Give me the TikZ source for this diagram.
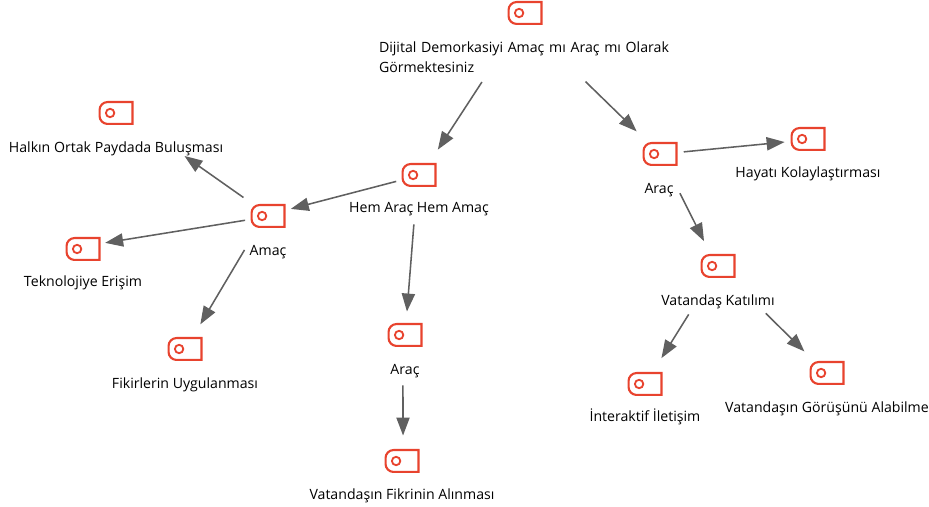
\documentclass[tikz,border=0pt]{standalone}
\usepackage{fontspec}
\setmainfont{Open Sans}
\usetikzlibrary{arrows.meta}

\definecolor{tagred}{HTML}{E8432E}
\definecolor{linkgray}{HTML}{606060}

\tikzset{
    tagicon/.style={inner sep=0, minimum width=0.875cm, minimum height=0.6cm,
        path picture={\draw[tagred, line width=1.5pt]
            ([shift={(-0.75pt,0.75pt)}]path picture bounding box.south east)
            -- ([shift={(-0.75pt,-0.75pt)}]path picture bounding box.north east) [rounded corners=0.2cm]
            -- ([shift={(0.75pt,-0.75pt)}]path picture bounding box.north west)
            -- ([shift={(0.75pt,0.75pt)}]path picture bounding box.south west) [sharp corners] -- cycle;
            \draw[tagred, line width=1.3pt] ([xshift=0.29cm]path picture bounding box.west) circle (0.105cm);}},
    topicfont/.style={inner sep=0, font=\fontsize{10.05pt}{14.2pt}\selectfont},
    topic/.style={topicfont, text height=0.34cm, text depth=0.06cm},
    link/.style={draw=linkgray, line width=1.1pt, -{Triangle[length=0.45cm, width=0.33cm, fill=linkgray]}},
}

\begin{document}
\begin{tikzpicture}
    \useasboundingbox (0,0) rectangle (23.225,12.675);

    \node[tagicon] (rooticon) at (13.125, 12.35) {};
    \node[tagicon] (aracicon) at (16.5, 8.825) {};
    \node[tagicon] (hayaticon) at (20.2, 9.2) {};
    \node[tagicon] (katilimicon) at (17.95, 6.025) {};
    \node[tagicon] (iletisimicon) at (16.125, 3.075) {};
    \node[tagicon] (gorusicon) at (20.675, 3.35) {};
    \node[tagicon] (hemicon) at (10.475, 8.3) {};
    \node[tagicon] (amacicon) at (6.7, 7.275) {};
    \node[tagicon] (halkicon) at (2.9, 9.85) {};
    \node[tagicon] (erisimicon) at (2.075, 6.45) {};
    \node[tagicon] (fikiricon) at (4.625, 3.95) {};
    \node[tagicon] (araciconb) at (10.125, 4.3) {};
    \node[tagicon] (alinmaicon) at (10.05, 1.15) {};

    \node[topicfont, text width=7.3cm, align=left] (root) at (13.125, 11.25) {Dijital Demorkasiyi Amaç mı Araç mı Olarak\\Görmektesiniz};
    \node[topic] (arac) at (16.475, 7.975) {Araç};
    \node[topic] (hayat) at (20.2, 8.375) {Hayatı Kolaylaştırması};
    \node[topic] (katilim) at (17.95, 5.175) {Vatandaş Katılımı};
    \node[topic] (iletisim) at (16.125, 2.275) {İnteraktif İletişim};
    \node[topic] (gorus) at (20.675, 2.5) {Vatandaşın Görüşünü Alabilme};
    \node[topic] (hem) at (10.475, 7.5) {Hem Araç Hem Amaç};
    \node[topic] (amac) at (6.7, 6.425) {Amaç};
    \node[topic] (halk) at (2.9, 9.0) {Halkın Ortak Paydada Buluşması};
    \node[topic] (erisim) at (2.075, 5.65) {Teknolojiye Erişim};
    \node[topic] (fikir) at (4.625, 3.1) {Fikirlerin Uygulanması};
    \node[topic] (aracb) at (10.125, 3.45) {Araç};
    \node[topic] (alinma) at (10.05, 0.325) {Vatandaşın Fikrinin Alınması};

    % root -> hem, arac
    \draw[link, shorten <=0.28cm, shorten >=0.39cm] (root.203) -- (hemicon.50);
    \draw[link, shorten <=0.32cm, shorten >=0.37cm] (root.-17) -- (aracicon.136);

    % arac -> hayat, katilim
    \draw[link, shorten <=0.15cm, shorten >=0.14cm] (aracicon.5) -- (hayaticon.188);
    \draw[link, shorten <=0.34cm, shorten >=0.35cm] (arac.25) -- (katilimicon.122);

    % katilim -> iletisim, gorus
    \draw[link, shorten <=0.18cm, shorten >=0.4cm] (katilim.-162) -- (iletisimicon.57);
    \draw[link, shorten <=0.18cm, shorten >=0.33cm] (katilim.-11) -- (gorusicon.137);

    % hem -> amac, aracb
    \draw[link, shorten <=0.13cm, shorten >=0.13cm] (hemicon.-164) -- (amacicon.18);
    \draw[link, shorten <=0.23cm, shorten >=0.28cm] (hem.-118) -- (araciconb.85);

    % aracb -> alinma
    \draw[link, shorten <=0.2cm, shorten >=0.33cm] (aracb.-104) -- (alinmaicon.85);

    % amac -> halk, erisim, fikir
    \draw[link, shorten <=0.27cm, shorten >=0.03cm] (amacicon.142) -- (halk.-7);
    \draw[link, shorten <=0.13cm, shorten >=0.11cm] (amacicon.-169) -- (erisimicon.17);
    \draw[link, shorten <=0.24cm, shorten >=0.36cm] (amac.156) -- (fikiricon.57);
\end{tikzpicture}
\end{document}
